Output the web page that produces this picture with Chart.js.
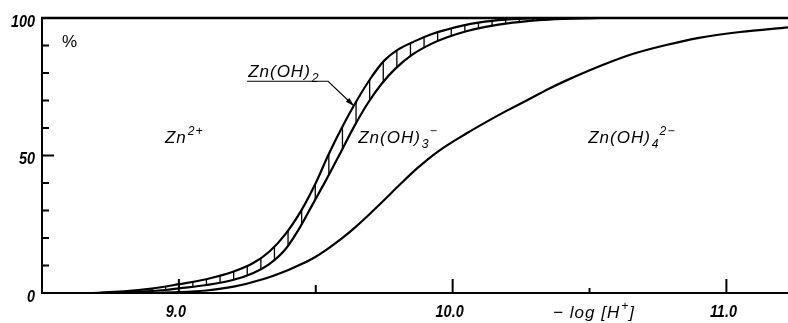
<!DOCTYPE html>
<html>
<head>
<meta charset="utf-8">
<script src="https://cdn.jsdelivr.net/npm/chart.js@4.4.1/dist/chart.umd.min.js"></script>
<style>
    html, body { margin: 0; padding: 0; background: #fff; }
    #wrap { width: 788px; height: 323px; }
</style>
</head>
<body>
<div id="wrap"><canvas id="zincChart" width="788" height="323"></canvas></div>
<script>
// Boundary Zn2+ / Zn(OH)2 (upper edge of the hatched band)
const zn2Ph  = [8.675, 8.80, 8.90, 9.00, 9.10, 9.20, 9.27, 9.33, 9.39, 9.45, 9.50, 9.545, 9.60, 9.65, 9.70, 9.75, 9.80, 9.86, 9.92, 9.98, 10.04, 10.10, 10.18, 10.26, 10.34];
const zn2Pct = [0,     0.6,  1.6,  3.2,  5.0,  7.8,  10.8, 15.0, 21.5, 30.5, 40.0, 50.0,  61.0, 70.0, 78.0, 84.5, 88.5, 91.5, 94.0, 95.8, 97.3,  98.4,  99.3,  99.8,  100];

// Boundary Zn(OH)2 / Zn(OH)3- (lower edge of the band)
const oh2Ph  = [8.712, 8.85, 8.95, 9.00, 9.10, 9.20, 9.27, 9.33, 9.39, 9.44, 9.49, 9.54, 9.585, 9.64, 9.69, 9.74, 9.79, 9.85, 9.92, 9.98, 10.05, 10.12, 10.22, 10.35, 10.54];
const oh2Pct = [0,     0.4,  1.1,  1.7,  2.9,  4.8,  7.2,  10.5, 16.0, 23.5, 32.5, 41.5, 50.0,  60.5, 69.0, 76.0, 81.5, 86.5, 90.5, 93.0, 95.2,  96.8,  98.3,  99.4,  100];

// Boundary Zn(OH)3- / Zn(OH)4 2-
const oh3Ph  = [8.858, 9.00, 9.10, 9.20, 9.30, 9.40, 9.45, 9.50, 9.55, 9.60, 9.65, 9.70, 9.75, 9.80, 9.87, 9.95, 10.05, 10.13, 10.20, 10.27, 10.35, 10.42, 10.55, 10.66, 10.78, 10.90, 11.05, 11.225];
const oh3Pct = [0,     0.3,  0.9,  2.3,  4.8,  8.4,  10.6, 13.2, 16.5, 20.2, 24.4, 29.0, 33.8, 38.7, 45.3, 51.7, 58.0,  62.6,  66.4,  70.0,  74.2,  77.5,  83.0,  87.0,  90.2,  92.8,  94.9,  96.6];

// axes
const xTickValues = [9.0, 10.0, 11.0];
const xTickLabels = ['9.0', '10.0', '11.0'];
const xMarkValues = [9.0, 9.5, 10.0, 10.5, 11.0];
const yTickValues = [0, 50, 100];
const yTickLabels = ['0', '50', '100'];
const yMarkValues = [10, 20, 30, 40, 50, 60, 70, 80, 90];

// species names, [text, 'sub' | 'sup' | '']
const speciesZn   = [['Zn', ''], ['2+', 'sup']];
const speciesOH2  = [['Zn(OH)', ''], ['2', 'sub']];
const speciesOH3  = [['Zn(OH)', ''], ['3', 'sub'], ['\u2212', 'sup']];
const speciesOH4  = [['Zn(OH)', ''], ['4', 'sub'], ['2\u2212', 'sup']];
const xTitleParts = [['\u2212 log [H', ''], ['+', 'sup'], [']', '']];

document.addEventListener('DOMContentLoaded', function() {
    const canvas = document.getElementById('zincChart');
    const ctx = canvas.getContext('2d');

    new Chart(ctx, {
        type: 'line',
        data: {
            datasets: [
                curve(zn2Ph, zn2Pct, { fill: '+1', backgroundColor: makeHatch(ctx) }),
                curve(oh2Ph, oh2Pct, {}),
                curve(oh3Ph, oh3Pct, {})
            ]
        },
        options: {
            responsive: false,
            animation: false,
            devicePixelRatio: 1,
            layout: { padding: { top: 18, right: 0, bottom: 0, left: 0 } },
            plugins: {
                legend: { display: false },
                tooltip: { enabled: false }
            },
            scales: {
                x: {
                    type: 'linear',
                    min: 8.5,
                    max: 11.225,
                    grid: { display: false },
                    border: { display: true, color: '#000', width: 2 },
                    ticks: { display: false },
                    afterFit: function(scale) { scale.height = 30; }
                },
                y: {
                    min: 0,
                    max: 100,
                    grid: { display: false },
                    border: { display: true, color: '#000', width: 2 },
                    ticks: { display: false },
                    afterFit: function(scale) { scale.width = 42; }
                }
            }
        },
        plugins: [paperPlugin]
    });
});

function curve(xs, ys, extra) {
    return Object.assign({
        data: xs.map((x, i) => ({ x: x, y: ys[i] })),
        borderColor: '#000',
        borderWidth: 2.2,
        pointRadius: 0,
        cubicInterpolationMode: 'monotone',
        fill: false
    }, extra);
}

// vertical strokes for the Zn(OH)2 band, about 13.6 px apart
function makeHatch(ctx) {
    const tile = document.createElement('canvas');
    tile.width = 68;
    tile.height = 4;
    const t = tile.getContext('2d');
    t.fillStyle = '#000';
    [2.4, 16, 29.6, 43.2, 56.8].forEach(x => t.fillRect(x - 0.6, 0, 1.3, 4));
    return ctx.createPattern(tile, 'repeat');
}

function drawChem(ctx, parts, x, y, size, weight) {
    parts.forEach(function(p) {
        const small = p[1] !== '';
        const s = small ? size * 0.72 : size;
        let dy = 0;
        if (p[1] === 'sup') dy = -size * 0.48;
        if (p[1] === 'sub') dy = size * 0.3;
        ctx.font = 'italic ' + weight + ' ' + s + 'px "Liberation Sans", Arial, sans-serif';
        ctx.fillText(p[0], x, y + dy);
        x += ctx.measureText(p[0]).width + (small ? 0 : 1);
    });
}

// narrow lettering for the axis numbers
function drawNarrow(ctx, text, x, y) {
    ctx.save();
    ctx.translate(x, y);
    ctx.scale(0.85, 1);
    ctx.fillText(text, 0, 0);
    ctx.restore();
}

const paperPlugin = {
    id: 'paper',
    afterDraw: function(chart) {
        const ctx = chart.ctx;
        const area = chart.chartArea;
        const xs = chart.scales.x;
        const ys = chart.scales.y;
        const px = v => xs.getPixelForValue(v);
        const py = v => ys.getPixelForValue(v);

        ctx.save();
        ctx.strokeStyle = '#000';
        ctx.fillStyle = '#000';

        // top frame line
        ctx.lineWidth = 2.5;
        ctx.beginPath();
        ctx.moveTo(area.left - 1, area.top);
        ctx.lineTo(area.right, area.top);
        ctx.stroke();

        // inward tick marks
        ctx.lineWidth = 2;
        yMarkValues.forEach(function(v) {
            const len = v === 50 ? 12 : 7;
            ctx.beginPath();
            ctx.moveTo(area.left, py(v));
            ctx.lineTo(area.left + len, py(v));
            ctx.stroke();
        });
        const xLens = { 9.5: 8, 10.5: 5 };
        xMarkValues.forEach(function(v) {
            const len = xLens[v] || 14;
            ctx.beginPath();
            ctx.moveTo(px(v), area.bottom);
            ctx.lineTo(px(v), area.bottom - len);
            ctx.stroke();
        });

        // tick labels
        ctx.font = 'italic bold 17px "Liberation Sans", Arial, sans-serif';
        ctx.textAlign = 'center';
        ctx.textBaseline = 'alphabetic';
        xTickValues.forEach(function(v, i) {
            drawNarrow(ctx, xTickLabels[i], px(v) - 3, area.bottom + 24);
        });
        ctx.textAlign = 'right';
        ctx.textBaseline = 'middle';
        yTickValues.forEach(function(v, i) {
            drawNarrow(ctx, yTickLabels[i], area.left - 7, py(v) + 4);
        });

        // percent sign
        ctx.textAlign = 'left';
        ctx.textBaseline = 'alphabetic';
        ctx.font = '17px "Liberation Sans", Arial, sans-serif';
        ctx.fillText('%', px(8.573), py(89.5));

        // species labels
        ctx.letterSpacing = '1px';
        drawChem(ctx, speciesZn, px(8.949), py(54.5), 17, 'normal');
        drawChem(ctx, speciesOH3, px(9.655), py(54.5), 17, 'normal');
        drawChem(ctx, speciesOH4, px(10.495), py(54.5), 17, 'normal');
        drawChem(ctx, speciesOH2, px(9.253), py(78.5), 17, 'normal');
        drawChem(ctx, xTitleParts, px(10.367), area.bottom + 25, 17, 'normal');
        ctx.letterSpacing = '0px';

        // leader line to the Zn(OH)2 band
        const lead = [[9.249, 77.0], [9.545, 77.0], [9.64, 68.0]];
        ctx.lineWidth = 1.1;
        ctx.beginPath();
        lead.forEach(function(p, i) {
            if (i === 0) ctx.moveTo(px(p[0]), py(p[1]));
            else ctx.lineTo(px(p[0]), py(p[1]));
        });
        ctx.stroke();
        const tx = px(lead[2][0]), ty = py(lead[2][1]);
        const ang = Math.atan2(ty - py(lead[1][1]), tx - px(lead[1][0]));
        ctx.beginPath();
        ctx.moveTo(tx, ty);
        ctx.lineTo(tx - 9 * Math.cos(ang) + 2.6 * Math.sin(ang), ty - 9 * Math.sin(ang) - 2.6 * Math.cos(ang));
        ctx.lineTo(tx - 9 * Math.cos(ang) - 2.6 * Math.sin(ang), ty - 9 * Math.sin(ang) + 2.6 * Math.cos(ang));
        ctx.closePath();
        ctx.fill();

        ctx.restore();
    }
};
</script>
</body>
</html>
